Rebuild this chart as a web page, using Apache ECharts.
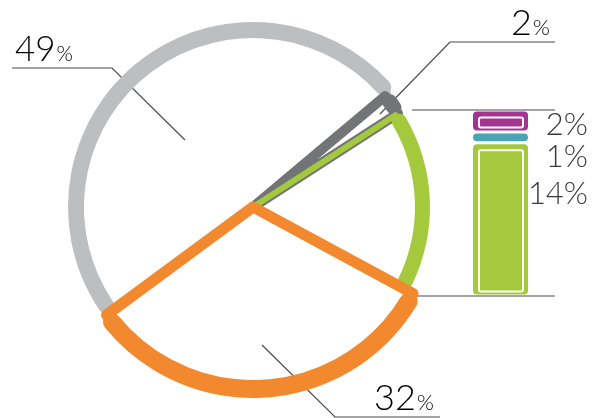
<!DOCTYPE html>
<html>
<head>
<meta charset="utf-8">
<script src="https://cdn.jsdelivr.net/npm/echarts@6/dist/echarts.min.js"></script>
<style>
html,body{margin:0;padding:0;background:#fff;}
#c{width:594px;height:418px;}
</style>
</head>
<body>
<div id="c"></div>
<script>
// ---- data ----
const pieNames = ['2%', 'other', '32%', '49%'];
const pieValues = [2, 17, 32, 49];
const pieColors = ['#737477', '#a5c93c', '#f3892f', '#bdbec0'];
const pieLabels = ['2%', '32%', '49%'];

const barNames = ['14%', '1%', '2%'];
const barValues = [14, 1, 2];
const barColors = ['#a5c93c', '#4ba3b3', '#a23591'];

// ---- layout / style (not data) ----
const CX = 253, CY = 207, START = 40;
const FONT = 'Lato, "Open Sans", sans-serif';
const TXT = '#3a3a3c';
const sliceStyle = [
  {R: 180, t: 15, w: 10},  // dark gray
  {R: 177, t: 15, w: 6},   // green
  {R: 191, t: 18, w: 11},  // orange
  {R: 185, t: 16, w: 5}    // light gray
];
const drawOrder = [3, 0, 1, 2];

const chart = echarts.init(document.getElementById('c'), null, {renderer: 'canvas'});

const series = [];
drawOrder.forEach(function (k) {
  const st = sliceStyle[k];
  const mk = function (filled) {
    return pieValues.map(function (v, i) {
      if (i !== k) return {value: v, name: pieNames[i], itemStyle: {color: 'rgba(0,0,0,0)', borderWidth: 0}};
      return {
        value: v, name: pieNames[i],
        itemStyle: filled
          ? {color: pieColors[i], borderWidth: 0, borderRadius: Math.floor(st.t / 2)}
          : {color: 'rgba(0,0,0,0)', borderColor: pieColors[i], borderWidth: st.w, borderJoin: 'round', borderCap: 'round'}
      };
    });
  };
  const base = {
    type: 'pie', center: [CX, CY], startAngle: START, clockwise: true,
    silent: true, animation: false, label: {show: false}, labelLine: {show: false},
    emphasis: {disabled: true}, minAngle: 0, avoidLabelOverlap: false
  };
  series.push(Object.assign({}, base, {radius: [0, st.R - st.t / 2], data: mk(false)}));
  series.push(Object.assign({}, base, {radius: [st.R - st.t, st.R], data: mk(true)}));
});

// stacked bar (custom, drawn through the axes)
let cum = 0;
const barData = barValues.map(function (v, i) {
  const d = [cum, cum + v, i];
  cum += v;
  return d;
});
const barTotal = cum;

series.push({
  type: 'custom', xAxisIndex: 0, yAxisIndex: 0, silent: true, animation: false,
  data: barData,
  renderItem: function (params, api) {
    const s = api.value(0), e = api.value(1), idx = api.value(2);
    const pT = api.coord([0, e]);
    const pB = api.coord([1, s]);
    const x0 = pT[0], x1 = pB[0];
    const yT = pT[1] + 1.5, yB = pB[1] - 1.5;
    const w = x1 - x0, h = yB - yT;
    const col = barColors[idx];
    const children = [{
      type: 'rect', shape: {x: x0, y: yT, width: w, height: h, r: 4},
      style: {fill: col}
    }];
    if (h > 12) {
      children.push({
        type: 'rect', shape: {x: x0 + 6, y: yT + 6, width: w - 11, height: h - 9, r: 2},
        style: {fill: col, stroke: '#ffffff', lineWidth: 2}
      });
    }
    return {type: 'group', children: children};
  }
});

const option = {
  backgroundColor: '#ffffff',
  animation: false,
  grid: {left: 473, width: 55, top: 110, bottom: 122},
  xAxis: {type: 'value', min: 0, max: 1, show: false},
  yAxis: {type: 'value', min: 0, max: barTotal, show: false},
  series: series
};
chart.setOption(option);

// annotations
const topY = chart.convertToPixel({gridIndex: 0}, [0, barTotal])[1];
const botY = chart.convertToPixel({gridIndex: 0}, [0, 0])[1];
const lineStyle = {stroke: '#4a4a4c', lineWidth: 1.2, fill: null};
const rich = function (big, small) {
  return {
    n: {fontSize: big, fontFamily: FONT, fontWeight: 300, color: TXT, verticalAlign: 'bottom', lineHeight: big},
    p: {fontSize: small, fontFamily: FONT, fontWeight: 300, color: TXT, verticalAlign: 'bottom', lineHeight: big, padding: [0, 0, 2, 1]}
  };
};
const pctText = function (lbl) {
  return '{n|' + lbl.replace('%', '') + '}{p|%}';
};
const graphics = [
  {type: 'polyline', shape: {points: [[412, topY], [555, topY]]}, style: lineStyle, silent: true},
  {type: 'polyline', shape: {points: [[415, botY], [555, botY]]}, style: lineStyle, silent: true},
  {type: 'polyline', shape: {points: [[555, 42], [450, 42], [380, 114]]}, style: lineStyle, silent: true},
  {type: 'polyline', shape: {points: [[12, 68], [112, 68], [185, 140]]}, style: lineStyle, silent: true},
  {type: 'polyline', shape: {points: [[440, 417], [335, 417], [262, 345]]}, style: lineStyle, silent: true},
  {type: 'text', left: 15, top: 32, silent: true,
    style: {text: pctText(pieLabels[2]), rich: rich(35, 21)}},
  {type: 'text', right: 44, top: 5, silent: true,
    style: {text: pctText(pieLabels[0]), rich: rich(36, 22)}},
  {type: 'text', left: 374, top: 380, silent: true,
    style: {text: pctText(pieLabels[1]), rich: rich(36, 22)}}
];
// bar labels, top to bottom
const labTops = [109, 141, 178];
barNames.slice().reverse().forEach(function (t, i) {
  graphics.push({type: 'text', right: 6, top: labTops[i], silent: true,
    style: {text: t, font: '300 31px ' + FONT, fill: TXT}});
});
chart.setOption({graphic: graphics});
</script>
</body>
</html>
